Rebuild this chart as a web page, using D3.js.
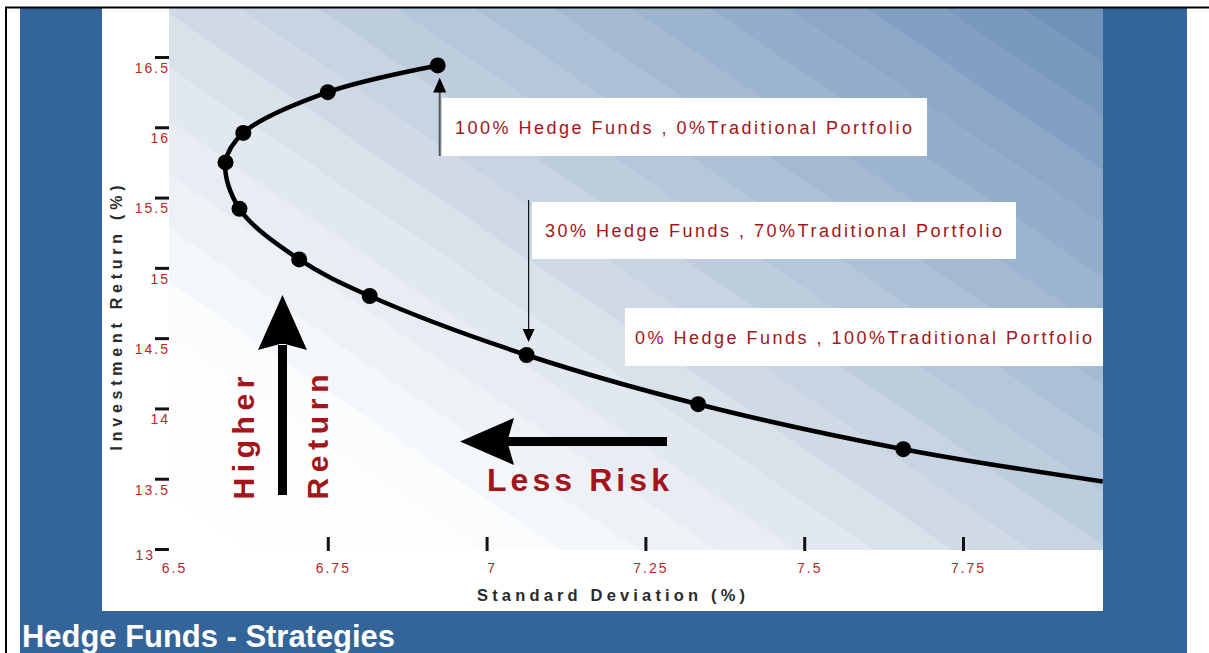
<!DOCTYPE html>
<html>
<head>
<meta charset="utf-8">
<script src="https://cdn.jsdelivr.net/npm/d3@7"></script>
<style>
  body { margin: 0; background: #fff; }
  svg { display: block; }
</style>
</head>
<body>
<div id="chart"></div>
<script>
var width  = 1209;
var height = 653;

// efficient frontier: standard deviation (%) vs investment return (%)
var sdValues  = [6.923, 6.75, 6.617, 6.589, 6.611, 6.705, 6.816, 7.063, 7.333, 7.656];
var retValues = [16.44, 16.25, 15.96, 15.75, 15.42, 15.06, 14.80, 14.38, 14.03, 13.71];
// the line runs on past the last marked portfolio to the edge of the plot
var tailSd  = [7.97];
var tailRet = [13.48];

var xTicks = [6.5, 6.75, 7, 7.25, 7.5, 7.75];
var yTicks = [13, 13.5, 14, 14.5, 15, 15.5, 16, 16.5];

var labels = [
  "100% Hedge Funds , 0%Traditional Portfolio",
  "30% Hedge Funds , 70%Traditional Portfolio",
  "0% Hedge Funds , 100%Traditional Portfolio"
];
var labelPoint = [0, 7, null];   // which dot each label's arrow points at

var svg = d3.select("#chart").append("svg")
  .attr("width", width)
  .attr("height", height);

// background shading: light at bottom-left, darker blue toward top-right,
// stepped into diagonal bands
var defs = svg.append("defs");
var gdir = [0.565, -0.825];
var grad = defs.append("linearGradient")
  .attr("id", "bg")
  .attr("gradientUnits", "userSpaceOnUse")
  .attr("x1", 169).attr("y1", 550)
  .attr("x2", 169 + 974 * gdir[0]).attr("y2", 550 + 974 * gdir[1]);
var shade = d3.scaleLinear()
  .domain([0, 0.2, 0.38, 0.5, 0.66, 0.85, 1])
  .range(["#ffffff", "#fbfcfd", "#e3e9f0", "#cbd7e4", "#acc0d6", "#8aa6c6", "#6a8fb5"]);
var nBands = 22;
d3.range(nBands).forEach(function(k) {
  var c = shade((k + 0.5) / nBands);
  grad.append("stop").attr("offset", k / nBands).attr("stop-color", c);
  grad.append("stop").attr("offset", (k + 1) / nBands).attr("stop-color", c);
});

// frame, blue panel and white chart card
svg.append("rect").attr("x", 20).attr("y", 8).attr("width", 1167).attr("height", 645)
  .attr("fill", "#33659a");
svg.append("rect").attr("x", 102).attr("y", 8).attr("width", 1001).attr("height", 603)
  .attr("fill", "#fff");
svg.append("rect").attr("x", 169).attr("y", 8).attr("width", 934).attr("height", 542)
  .attr("fill", "url(#bg)");
svg.append("line").attr("x1", 5).attr("x2", width).attr("y1", 7.5).attr("y2", 7.5)
  .attr("stroke", "#000").attr("stroke-width", 2);
svg.append("line").attr("x1", 6).attr("x2", 6).attr("y1", 7).attr("y2", height)
  .attr("stroke", "#000").attr("stroke-width", 2);

var x = d3.scaleLinear().domain([6.5, 7.75]).range([169, 963]);
var y = d3.scaleLinear().domain([13, 16.5]).range([549, 57]);

// axes
var yAxis = svg.append("g")
  .attr("transform", "translate(169,0)")
  .call(d3.axisLeft(y).tickValues(yTicks).tickSize(14).tickPadding(-15)
    .tickFormat(d3.format("")));
yAxis.select(".domain").remove();
yAxis.selectAll(".tick line").attr("stroke", "#111").attr("stroke-width", 3);
yAxis.selectAll(".tick text")
  .attr("dy", "1.1em")
  .style("font", "14px 'Liberation Sans', Arial, sans-serif")
  .style("letter-spacing", "2px")
  .attr("fill", "#b5262b");
// the lowest label sits tucked left of the corner
yAxis.selectAll(".tick text").filter(function(d) { return d === 13; })
  .attr("dy", "0.75em").attr("x", -14);

var xAxis = svg.append("g")
  .attr("transform", "translate(0,537)")
  .call(d3.axisBottom(x).tickValues(xTicks).tickSize(14).tickPadding(12)
    .tickFormat(d3.format("")));
xAxis.select(".domain").remove();
xAxis.selectAll(".tick line").attr("stroke", "#111").attr("stroke-width", 3)
  .filter(function(d) { return d === 6.5; }).remove();
xAxis.selectAll(".tick text")
  .attr("dx", 5)
  .style("font", "14px 'Liberation Sans', Arial, sans-serif")
  .style("letter-spacing", "2px")
  .attr("fill", "#b5262b");

svg.append("text")
  .attr("x", 611).attr("y", 601)
  .attr("text-anchor", "middle")
  .attr("textLength", 268).attr("lengthAdjust", "spacing")
  .style("font", "bold 16.5px 'Liberation Sans', Arial, sans-serif")
  .attr("fill", "#2b2b2b")
  .text("Standard Deviation (%)");

svg.append("text")
  .attr("transform", "translate(122,318) rotate(-90)")
  .attr("text-anchor", "middle")
  .attr("textLength", 265).attr("lengthAdjust", "spacing")
  .style("font", "bold 16px 'Liberation Sans', Arial, sans-serif")
  .attr("fill", "#2b2b2b")
  .text("Investment Return (%)");

// frontier line and portfolio dots
var pts = sdValues.map(function(d, i) { return [d, retValues[i]]; });
var linePts = pts.concat(tailSd.map(function(d, i) { return [d, tailRet[i]]; }));

var plot = svg.append("g");
defs.append("clipPath").attr("id", "plotclip")
  .append("rect").attr("x", 169).attr("y", 8).attr("width", 934).attr("height", 603);

plot.append("path")
  .datum(linePts)
  .attr("clip-path", "url(#plotclip)")
  .attr("fill", "none")
  .attr("stroke", "#000")
  .attr("stroke-width", 4.5)
  .attr("d", d3.line()
    .x(function(d) { return x(d[0]); })
    .y(function(d) { return y(d[1]); })
    .curve(d3.curveCatmullRom.alpha(0.5)));

plot.selectAll(".dot")
  .data(pts)
  .enter().append("circle")
  .attr("class", "dot")
  .attr("r", 8)
  .attr("cx", function(d) { return x(d[0]); })
  .attr("cy", function(d) { return y(d[1]); })
  .attr("fill", "#000");

// label boxes
var boxes = [
  { left: 442, top: 98,  right: 927,  bottom: 156, tx: 455 },
  { left: 532, top: 202, right: 1016, bottom: 259, tx: 545 },
  { left: 625, top: 308, right: 1103, bottom: 366, tx: 635 }
];

boxes.forEach(function(b, i) {
  svg.append("rect")
    .attr("x", b.left).attr("y", b.top)
    .attr("width", b.right - b.left).attr("height", b.bottom - b.top)
    .attr("fill", "#fff");
  svg.append("text")
    .attr("x", b.tx).attr("y", (b.top + b.bottom) / 2 + 6.5)
    .attr("textLength", 457).attr("lengthAdjust", "spacing")
    .style("font", "18px 'Liberation Sans', Arial, sans-serif")
    .attr("fill", "#a3141b")
    .text(labels[i]);
});

// arrow from box 1 up to the 100% hedge fund dot
var p0 = pts[labelPoint[0]];
var ax0 = x(p0[0]) + 2, ay0 = y(p0[1]) + 12;
svg.append("line").attr("x1", ax0).attr("x2", ax0).attr("y1", 156).attr("y2", ay0 + 12)
  .attr("stroke", "#555").attr("stroke-width", 2);
svg.append("path")
  .attr("d", "M" + ax0 + "," + ay0 + "L" + (ax0 + 6.5) + "," + (ay0 + 15) +
             "L" + (ax0 - 6.5) + "," + (ay0 + 15) + "Z")
  .attr("fill", "#000");

// arrow from box 2 down to the 30% hedge fund dot
var p1 = pts[labelPoint[1]];
var ax1 = x(p1[0]) + 2, ay1 = y(p1[1]) - 13;
svg.append("line").attr("x1", ax1).attr("x2", ax1).attr("y1", 200).attr("y2", ay1 - 10)
  .attr("stroke", "#111").attr("stroke-width", 1.2);
svg.append("path")
  .attr("d", "M" + ax1 + "," + ay1 + "L" + (ax1 + 6) + "," + (ay1 - 13) +
             "L" + (ax1 - 6) + "," + (ay1 - 13) + "Z")
  .attr("fill", "#000");

// big "Higher Return" arrow
svg.append("rect").attr("x", 278).attr("y", 345).attr("width", 9).attr("height", 150)
  .attr("fill", "#000");
svg.append("path")
  .attr("d", "M282.5,295 L307,350 L285,344 L280,344 L258,350 Z")
  .attr("fill", "#000");

// big "Less Risk" arrow
svg.append("rect").attr("x", 508).attr("y", 437).attr("width", 159).attr("height", 9)
  .attr("fill", "#000");
svg.append("path")
  .attr("d", "M460,441.5 L514,418 L508,439 L508,444 L514,465 Z")
  .attr("fill", "#000");

var bigFont = "bold 30px 'Liberation Sans', Arial, sans-serif";
svg.append("text")
  .attr("transform", "translate(254,438) rotate(-90)")
  .attr("text-anchor", "middle")
  .attr("textLength", 123).attr("lengthAdjust", "spacing")
  .style("font", bigFont).attr("fill", "#a3141b")
  .text("Higher");
svg.append("text")
  .attr("transform", "translate(328,437) rotate(-90)")
  .attr("text-anchor", "middle")
  .attr("textLength", 125).attr("lengthAdjust", "spacing")
  .style("font", bigFont).attr("fill", "#a3141b")
  .text("Return");
svg.append("text")
  .attr("x", 487).attr("y", 491)
  .attr("textLength", 182).attr("lengthAdjust", "spacing")
  .style("font", "bold 32px 'Liberation Sans', Arial, sans-serif")
  .attr("fill", "#a3141b")
  .text("Less Risk");

// page title
svg.append("text")
  .attr("x", 22).attr("y", 647)
  .attr("textLength", 373).attr("lengthAdjust", "spacingAndGlyphs")
  .style("font", "bold 31px 'Liberation Sans', Arial, sans-serif")
  .attr("fill", "#fff")
  .text("Hedge Funds - Strategies");
</script>
</body>
</html>
